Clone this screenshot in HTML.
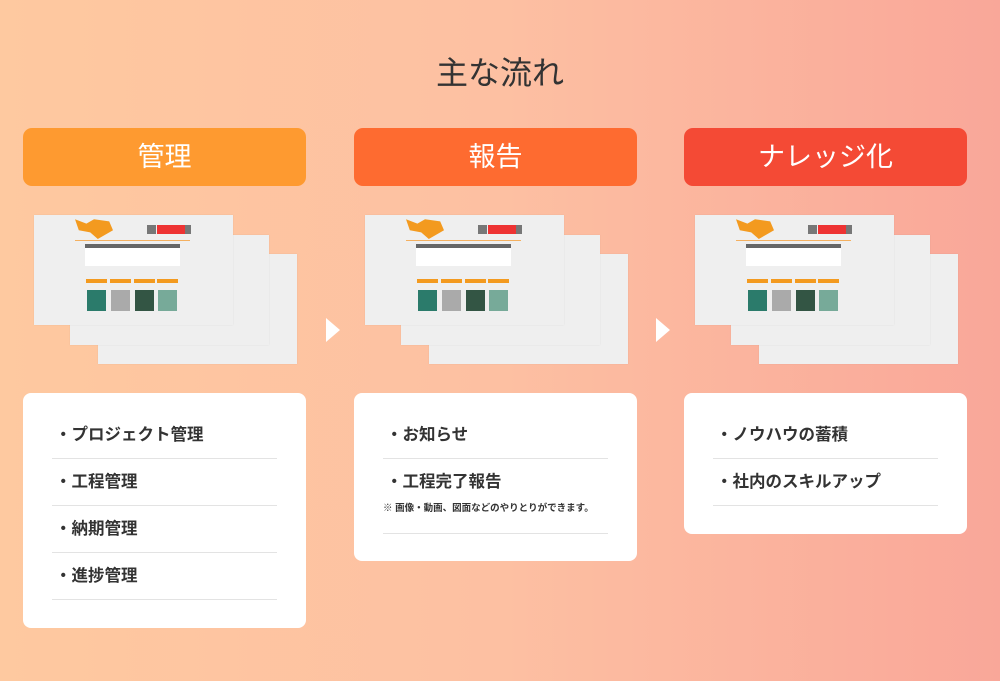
<!DOCTYPE html>
<html><head><meta charset="utf-8"><style>
*{margin:0;padding:0;box-sizing:border-box}
body{width:1000px;height:681px;overflow:hidden;background:linear-gradient(90deg,#fec9a0 0%,#fdc0a2 50%,#f9a799 100%);font-family:"Liberation Sans","Noto Sans CJK JP",sans-serif;position:relative;color:#333}
h1{position:absolute;top:48px;left:0;width:1000px;text-align:center;font-size:32px;font-weight:400;color:#333}
.hd{position:absolute;top:128px;width:283px;height:58px;border-radius:9px;color:#fff;font-size:27px;text-align:center;line-height:58px}
.th{position:absolute;top:215px;width:270px;height:150px}
.pg{position:absolute;width:199px;height:110px;background:#efefef;box-shadow:0 0 1px rgba(0,0,0,.1)}
.pg i{position:absolute;display:block}
.card{position:absolute;top:393px;width:283px;background:#fff;border-radius:8px;padding:0 29px}
.it{height:47px;border-bottom:1px solid #e3e3e3;font-size:16.5px;font-weight:700;line-height:47px;padding-left:3px}
.note{font-size:9.5px;font-weight:700;line-height:12px;margin-top:-3px;margin-left:-3px;white-space:nowrap}
.arr{position:absolute;top:318px;width:0;height:0;border-top:12px solid transparent;border-bottom:12px solid transparent;border-left:14px solid #fff}
</style></head><body>
<h1>主な流れ</h1>
<div class="hd" style="left:23px;background:#fe9a30">管理</div>
<div class="hd" style="left:354px;background:#fe6b30">報告</div>
<div class="hd" style="left:684px;background:#f44a35">ナレッジ化</div>

<div class="th" style="left:34px">
 <div class="pg" style="left:64px;top:39px"><i style="left:54px;top:79px;width:20px;height:6px;background:#2b6b63"></i><i style="left:78px;top:79px;width:20px;height:6px;background:#999"></i><i style="left:102px;top:79px;width:20px;height:6px;background:#263"></i><i style="left:125px;top:79px;width:20px;height:6px;background:#6a9"></i></div>
 <div class="pg" style="left:36px;top:20px"><i style="left:54px;top:68px;width:20px;height:6px;background:#2b6b63"></i><i style="left:78px;top:68px;width:20px;height:6px;background:#999"></i><i style="left:102px;top:68px;width:20px;height:6px;background:#263"></i><i style="left:125px;top:68px;width:20px;height:6px;background:#6a9"></i></div>
 <div class="pg" style="left:0;top:0"><i style="left:41px;top:2px;width:38px;height:22px;background:#f39a1f;clip-path:polygon(0 10%,30% 30%,50% 10%,90% 20%,100% 60%,60% 100%,40% 70%,10% 60%)"></i><i style="left:113px;top:10px;width:9px;height:9px;background:#777"></i><i style="left:123px;top:10px;width:28px;height:9px;background:#e33"></i><i style="left:151px;top:10px;width:6px;height:9px;background:#777"></i><i style="left:41px;top:25px;width:115px;height:1px;background:#f4b060"></i><i style="left:51px;top:29px;width:95px;height:4px;background:#666"></i><i style="left:51px;top:33px;width:95px;height:18px;background:#fff"></i><i style="left:52px;top:64px;width:21px;height:4px;background:#f39a1f"></i><i style="left:76px;top:64px;width:21px;height:4px;background:#f39a1f"></i><i style="left:100px;top:64px;width:21px;height:4px;background:#f39a1f"></i><i style="left:123px;top:64px;width:21px;height:4px;background:#f39a1f"></i><i style="left:53px;top:75px;width:19px;height:21px;background:#2b7b6b"></i><i style="left:77px;top:75px;width:19px;height:21px;background:#aaa"></i><i style="left:101px;top:75px;width:19px;height:21px;background:#354"></i><i style="left:124px;top:75px;width:19px;height:21px;background:#7a9"></i></div>
</div>
<div class="arr" style="left:326px"></div>
<div class="th" style="left:365px">
 <div class="pg" style="left:64px;top:39px"><i style="left:54px;top:79px;width:20px;height:6px;background:#2b6b63"></i><i style="left:78px;top:79px;width:20px;height:6px;background:#999"></i><i style="left:102px;top:79px;width:20px;height:6px;background:#263"></i><i style="left:125px;top:79px;width:20px;height:6px;background:#6a9"></i></div>
 <div class="pg" style="left:36px;top:20px"><i style="left:54px;top:68px;width:20px;height:6px;background:#2b6b63"></i><i style="left:78px;top:68px;width:20px;height:6px;background:#999"></i><i style="left:102px;top:68px;width:20px;height:6px;background:#263"></i><i style="left:125px;top:68px;width:20px;height:6px;background:#6a9"></i></div>
 <div class="pg" style="left:0;top:0"><i style="left:41px;top:2px;width:38px;height:22px;background:#f39a1f;clip-path:polygon(0 10%,30% 30%,50% 10%,90% 20%,100% 60%,60% 100%,40% 70%,10% 60%)"></i><i style="left:113px;top:10px;width:9px;height:9px;background:#777"></i><i style="left:123px;top:10px;width:28px;height:9px;background:#e33"></i><i style="left:151px;top:10px;width:6px;height:9px;background:#777"></i><i style="left:41px;top:25px;width:115px;height:1px;background:#f4b060"></i><i style="left:51px;top:29px;width:95px;height:4px;background:#666"></i><i style="left:51px;top:33px;width:95px;height:18px;background:#fff"></i><i style="left:52px;top:64px;width:21px;height:4px;background:#f39a1f"></i><i style="left:76px;top:64px;width:21px;height:4px;background:#f39a1f"></i><i style="left:100px;top:64px;width:21px;height:4px;background:#f39a1f"></i><i style="left:123px;top:64px;width:21px;height:4px;background:#f39a1f"></i><i style="left:53px;top:75px;width:19px;height:21px;background:#2b7b6b"></i><i style="left:77px;top:75px;width:19px;height:21px;background:#aaa"></i><i style="left:101px;top:75px;width:19px;height:21px;background:#354"></i><i style="left:124px;top:75px;width:19px;height:21px;background:#7a9"></i></div>
</div>
<div class="arr" style="left:656px"></div>
<div class="th" style="left:695px">
 <div class="pg" style="left:64px;top:39px"><i style="left:54px;top:79px;width:20px;height:6px;background:#2b6b63"></i><i style="left:78px;top:79px;width:20px;height:6px;background:#999"></i><i style="left:102px;top:79px;width:20px;height:6px;background:#263"></i><i style="left:125px;top:79px;width:20px;height:6px;background:#6a9"></i></div>
 <div class="pg" style="left:36px;top:20px"><i style="left:54px;top:68px;width:20px;height:6px;background:#2b6b63"></i><i style="left:78px;top:68px;width:20px;height:6px;background:#999"></i><i style="left:102px;top:68px;width:20px;height:6px;background:#263"></i><i style="left:125px;top:68px;width:20px;height:6px;background:#6a9"></i></div>
 <div class="pg" style="left:0;top:0"><i style="left:41px;top:2px;width:38px;height:22px;background:#f39a1f;clip-path:polygon(0 10%,30% 30%,50% 10%,90% 20%,100% 60%,60% 100%,40% 70%,10% 60%)"></i><i style="left:113px;top:10px;width:9px;height:9px;background:#777"></i><i style="left:123px;top:10px;width:28px;height:9px;background:#e33"></i><i style="left:151px;top:10px;width:6px;height:9px;background:#777"></i><i style="left:41px;top:25px;width:115px;height:1px;background:#f4b060"></i><i style="left:51px;top:29px;width:95px;height:4px;background:#666"></i><i style="left:51px;top:33px;width:95px;height:18px;background:#fff"></i><i style="left:52px;top:64px;width:21px;height:4px;background:#f39a1f"></i><i style="left:76px;top:64px;width:21px;height:4px;background:#f39a1f"></i><i style="left:100px;top:64px;width:21px;height:4px;background:#f39a1f"></i><i style="left:123px;top:64px;width:21px;height:4px;background:#f39a1f"></i><i style="left:53px;top:75px;width:19px;height:21px;background:#2b7b6b"></i><i style="left:77px;top:75px;width:19px;height:21px;background:#aaa"></i><i style="left:101px;top:75px;width:19px;height:21px;background:#354"></i><i style="left:124px;top:75px;width:19px;height:21px;background:#7a9"></i></div>
</div>

<div class="card" style="left:23px;height:235px;padding-top:19px">
 <div class="it">・プロジェクト管理</div>
 <div class="it">・工程管理</div>
 <div class="it">・納期管理</div>
 <div class="it">・進捗管理</div>
</div>
<div class="card" style="left:354px;height:168px;padding-top:19px">
 <div class="it">・お知らせ</div>
 <div class="it" style="height:75px"><div style="height:47px">・工程完了報告</div><div class="note">※ 画像・動画、図面などのやりとりができます。</div></div>
</div>
<div class="card" style="left:684px;height:141px;padding-top:19px">
 <div class="it">・ノウハウの蓄積</div>
 <div class="it">・社内のスキルアップ</div>
</div>
</body></html>
